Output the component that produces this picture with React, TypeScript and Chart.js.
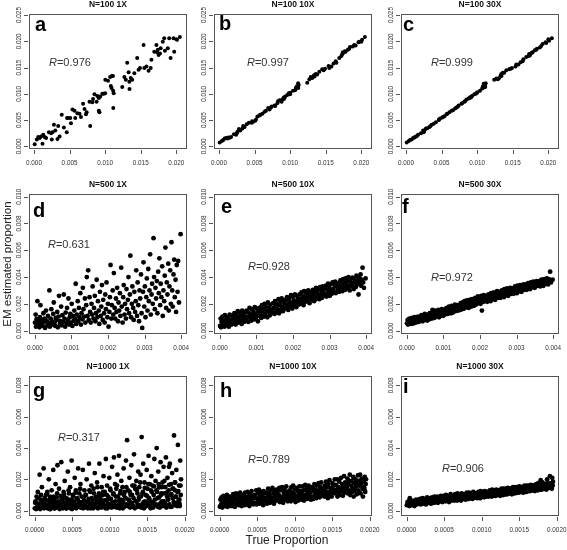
import React, { useEffect, useRef } from "react";
import { Chart, registerables } from "chart.js";

Chart.register(...registerables);

// ---------------- DATA ----------------
// Row 1 (N=100): values in units of 1e-5
const ROW1_TRUE = [
  10, 40, 60, 80, 100, 120, 130, 150, 170, 210,
  240, 260, 250, 280, 300, 340, 330, 360, 390, 420,
  460, 465, 480, 510, 520, 540, 570, 580, 610, 640,
  660, 690, 710, 730, 740, 780, 790, 820, 830, 850,
  880, 890, 910, 912, 920, 930, 960, 980, 1000, 1002,
  1040, 1070, 1080, 1090, 1092, 1110, 1112, 1114, 1120, 1240,
  1270, 1290, 1310, 1330, 1340, 1342, 1360, 1380, 1410, 1450,
  1470, 1490, 1540, 1550, 1580, 1610, 1640, 1650, 1690, 1720,
  1730, 1740, 1750, 1770, 1780, 1810, 1830, 1840, 1880, 1900,
  1920, 1960, 1970, 2000, 2010, 2050,
];
const A_EST = [
  40, 130, 180, 160, 190, 50, 220, 180, 160, 270,
  250, 270, 130, 410, 300, 390, 140, 190, 600, 360,
  270, 540, 540, 540, 440, 700, 680, 540, 630, 620,
  560, 810, 710, 610, 650, 850, 390, 840, 900, 990,
  850, 960, 920, 680, 650, 950, 1000, 1000, 1010, 1270,
  1250, 1320, 1150, 1110, 1340, 1340, 1060, 730, 1010, 1130,
  1320, 1270, 1590, 1410, 1230, 1090, 1300, 1270, 1390, 1680,
  1460, 1490, 1930, 1490, 1520, 1440, 1490, 1650, 1800, 1930,
  1790, 1840, 1740, 1770, 1870, 1990, 2060, 1820, 1870, 2060,
  1680, 2060, 1800, 2040, 2030, 2080,
];
const B_EST = [
  75, 100, 120, 150, 160, 150, 170, 165, 180, 230,
  220, 280, 250, 330, 300, 390, 340, 370, 420, 450,
  450, 480, 470, 490, 510, 570, 590, 600, 620, 660,
  680, 730, 700, 740, 760, 780, 770, 820, 860, 880,
  850, 890, 930, 900, 920, 950, 980, 1010, 990, 1020,
  1060, 1070, 1110, 1120, 1140, 1150, 1200, 1110, 1170, 1210,
  1280, 1320, 1300, 1340, 1360, 1330, 1380, 1370, 1420, 1470,
  1450, 1480, 1530, 1490, 1520, 1580, 1620, 1590, 1680, 1720,
  1750, 1790, 1780, 1810, 1800, 1840, 1860, 1890, 1900, 1930,
  1920, 1980, 1990, 1990, 2030, 2080,
];
const C_EST = [
  75, 100, 125, 130, 160, 170, 185, 195, 220, 250,
  300, 300, 270, 340, 345, 385, 370, 410, 430, 460,
  500, 510, 530, 550, 560, 575, 610, 620, 650, 680,
  690, 720, 740, 760, 780, 810, 820, 850, 860, 890,
  910, 920, 940, 930, 950, 960, 990, 1000, 1020, 1030,
  1060, 1100, 1140, 1120, 1190, 1180, 1150, 1130, 1200, 1270,
  1290, 1280, 1300, 1350, 1380, 1340, 1400, 1400, 1450, 1470,
  1480, 1490, 1520, 1560, 1560, 1600, 1620, 1660, 1700, 1720,
  1760, 1730, 1770, 1780, 1790, 1830, 1840, 1860, 1880, 1910,
  1950, 1980, 1970, 2040, 2010, 2060,
];

// Row 2 (N=500): values in units of 1e-6
const ROW2_TRUE = [
  5, 22, 31, 48, 70, 84, 101, 125, 139, 152, 178, 190, 214, 233, 247, 269, 280, 305, 321, 342,
  360, 377, 398, 410, 433, 450, 462, 489, 503, 517, 540, 558, 571, 596, 612, 628, 647, 660, 684, 701,
  719, 735, 752, 778, 790, 812, 829, 843, 866, 880, 903, 918, 937, 955, 971, 990, 1008, 1026, 1040, 1063,
  1080, 1094, 1117, 1131, 1150, 1172, 1186, 1205, 1220, 1243, 1260, 1275, 1298, 1312, 1330, 1351, 1369, 1382, 1404, 1420,
  1441, 1458, 1473, 1495, 1510, 1528, 1549, 1566, 1580, 1603, 1618, 1640, 1655, 1672, 1690, 1711, 1725, 1748, 1763, 1780,
  1802, 1817, 1835, 1856, 1870, 1891, 1908, 1925, 1944, 1960, 1982, 1997, 2015, 2038, 2052, 2070, 2091, 2105, 2128, 2143,
  2160, 2181, 2196, 2218, 2232, 2250, 2273, 2288, 2305, 2326, 2340, 2361, 2377, 2399, 2415, 2430, 2452, 2468, 2490, 2506,
  2521, 2543, 2560, 2577, 2598, 2612, 2630, 2651, 2666, 2688, 2703, 2720, 2741, 2758, 2772, 2795, 2810, 2828, 2849, 2863,
  2880, 2902, 2918, 2935, 2957, 2970, 2992, 3008, 3025, 3046, 3061, 3080, 3101, 3116, 3135, 3152, 3170, 3191, 3206, 3224,
  3245, 3260, 3281, 3297, 3315, 3336, 3350, 3372, 3389, 3405, 3426, 3441, 3460, 3482, 3497, 3515, 3536, 3551, 3570, 3590,
  3608, 3625, 3647, 3662, 3680, 3701, 3718, 3735, 3756, 3770, 3791, 3810, 3826, 3847, 3862, 3880, 3902, 3918, 3940, 3985,
];
const D_EST = [
  600, 1200, 300, 850, 2200, 450, 700, 250, 1000, 1900, 500, 800, 350, 1300, 650, 900, 200, 1500, 750, 400,
  1100, 550, 3000, 300, 900, 1600, 700, 450, 1250, 2100, 600, 350, 950, 800, 1400, 250, 1050, 2600, 500, 700,
  1800, 400, 1150, 650, 2700, 900, 300, 1350, 550, 1700, 800, 2400, 450, 1000, 1250, 600, 2000, 350, 1100, 750,
  1500, 900, 3500, 500, 1200, 2200, 700, 1700, 1000, 2800, 450, 1300, 850, 3200, 1600, 1050, 2400, 600, 1900, 4000,
  1100, 4500, 800, 2500, 1400, 600, 2000, 1200, 3300, 900, 1700, 2600, 700, 1300, 3800, 1000, 2200, 1500, 500, 2900,
  1100, 1800, 3400, 800, 2300, 1300, 600, 2700, 1600, 3600, 1000, 2000, 300, 1400, 2500, 4900, 900, 1900, 3000, 1200,
  4300, 1700, 900, 2400, 1400, 3200, 700, 2100, 1500, 2800, 1100, 4700, 1800, 600, 2500, 3400, 1200, 2000, 900, 3100,
  1600, 2300, 4000, 1300, 2700, 5600, 1000, 2000, 3300, 1700, 800, 2900, 1400, 2200, 4500, 1100, 3600, 1900, 700, 3000,
  2400, 4200, 1300, 200, 2900, 5100, 1800, 3300, 1000, 2500, 3900, 1500, 4600, 2200, 3000, 5700, 1200, 2700, 3500, 2000,
  6900, 4000, 1600, 3200, 2400, 3700, 1300, 4400, 2800, 5400, 1900, 3500, 2500, 4800, 1100, 3000, 2200, 4100, 6200, 1700,
  3600, 2700, 5000, 1500, 3300, 4500, 2000, 6600, 3000, 1800, 4200, 5300, 2500, 3800, 1400, 4900, 2900, 5200, 2100, 7200,
];
const E_EST = [
  350, 900, 250, 650, 1050, 450, 750, 300, 1150, 550, 850, 400, 1000, 650, 300, 1200, 500, 800, 450, 1100,
  950, 550, 1300, 750, 450, 1150, 850, 1450, 600, 1000, 1350, 700, 1100, 500, 1500, 900, 1250, 650, 1050, 1400,
  800, 1500, 1050, 650, 1350, 1700, 950, 1200, 750, 1600, 1100, 1400, 850, 1750, 1250, 1000, 1650, 1300, 700, 1500,
  1700, 1100, 1450, 950, 1900, 1300, 1600, 1050, 2000, 1250, 1800, 1500, 1000, 2100, 1400, 1700, 1150, 1950, 1550, 1350,
  1450, 2050, 1700, 1250, 2200, 1850, 1400, 2000, 1600, 2350, 1300, 1900, 2150, 1550, 2400, 1750, 1450, 2250, 2000, 1650,
  2250, 1700, 2500, 1950, 1550, 2400, 2100, 1800, 2650, 2000, 1650, 2550, 2250, 1900, 2700, 2150, 1750, 2600, 2350, 2050,
  1950, 2700, 2350, 2050, 2850, 2200, 2550, 1900, 2950, 2400, 2150, 2800, 2500, 2250, 3000, 2650, 2050, 2900, 2450, 2750,
  2300, 3050, 2650, 2200, 2950, 2500, 3200, 2400, 2800, 3100, 2550, 2350, 3250, 2700, 3000, 2450, 3300, 2850, 2600, 3150,
  2700, 3350, 2550, 3050, 3500, 2850, 3200, 2600, 3450, 3000, 2750, 3600, 3100, 2900, 3400, 3650, 2800, 3300, 3550, 3050,
  3550, 2900, 3300, 3750, 3100, 3450, 2950, 3850, 3250, 3600, 3050, 3900, 3400, 3150, 3700, 4000, 3350, 3000, 3800, 3500,
  3300, 3950, 3550, 3100, 3850, 3650, 3250, 4100, 3450, 3750, 2700, 3950, 3550, 4200, 3350, 3800, 4700, 3600, 3200, 3900,
];
const F_EST = [
  550, 800, 450, 700, 900, 600, 750, 500, 950, 650, 850, 550, 1000, 700, 600, 900, 750, 1050, 650, 850,
  1000, 750, 1150, 850, 700, 1100, 900, 1250, 800, 1050, 950, 750, 1200, 1000, 850, 1300, 950, 1150, 900, 1550,
  1100, 1400, 950, 1250, 1500, 1050, 1350, 1150, 1550, 1000, 1300, 1450, 1150, 1600, 1250, 1100, 1500, 1350, 1200, 1650,
  1350, 1700, 1250, 1550, 1800, 1400, 1650, 1300, 1850, 1500, 1350, 1750, 1600, 1950, 1450, 1700, 1550, 1900, 1500, 1800,
  1900, 1550, 2050, 1700, 1600, 2100, 1800, 1650, 2200, 1900, 1750, 2250, 1850, 2000, 1700, 2300, 1950, 2100, 1800, 2350,
  2000, 2350, 1850, 2200, 2450, 1950, 2300, 2100, 2550, 2050, 2400, 2250, 2000, 2600, 1500, 2350, 2150, 2650, 2300, 2500,
  2250, 2600, 2150, 2450, 2700, 2300, 2550, 2200, 2800, 2400, 2650, 2350, 2850, 2500, 2300, 2750, 2600, 2950, 2450, 2700,
  2550, 2900, 2450, 2750, 3000, 2600, 2850, 2500, 3100, 2700, 2950, 2650, 3150, 2800, 2600, 3050, 2900, 3200, 2750, 3000,
  2850, 3150, 2750, 3050, 3300, 2900, 3150, 2800, 3350, 3000, 3250, 2950, 3400, 3100, 2900, 3350, 3200, 3450, 3050, 3300,
  3150, 3450, 3050, 3350, 3550, 3200, 3450, 3100, 3600, 3300, 3500, 3250, 3650, 3400, 3200, 3600, 3450, 3700, 3350, 3550,
  3400, 3700, 3300, 3600, 3800, 3450, 3700, 3350, 3850, 3550, 3750, 3500, 3900, 3650, 3450, 3850, 3700, 4400, 3600, 3800,
];

// Row 3 (N=1000): values in units of 1e-6
const ROW3_TRUE = [
  3, 11, 19, 26, 36, 42, 51, 57, 67, 74, 81, 88, 97, 103, 112, 120, 126, 135, 141, 150,
  158, 164, 173, 180, 189, 195, 204, 212, 218, 227, 233, 243, 248, 258, 264, 273, 279, 288, 294, 304,
  310, 319, 325, 334, 340, 350, 355, 365, 371, 380, 386, 396, 401, 411, 417, 426, 432, 442, 447, 457,
  463, 472, 478, 488, 493, 503, 509, 518, 524, 534, 540, 549, 555, 565, 570, 580, 586, 595, 601, 611,
  617, 626, 632, 642, 647, 657, 663, 672, 678, 688, 693, 703, 709, 718, 724, 734, 740, 749, 755, 765,
  770, 780, 786, 795, 801, 811, 817, 826, 832, 842, 847, 857, 863, 872, 878, 888, 893, 903, 909, 918,
  924, 934, 940, 949, 955, 965, 970, 980, 986, 995, 1001, 1011, 1017, 1026, 1032, 1042, 1047, 1057, 1063, 1072,
  1078, 1088, 1093, 1103, 1109, 1118, 1124, 1134, 1140, 1149, 1155, 1165, 1170, 1180, 1186, 1195, 1201, 1211, 1217, 1226,
  1232, 1242, 1247, 1257, 1263, 1272, 1278, 1288, 1293, 1303, 1309, 1318, 1324, 1334, 1340, 1349, 1355, 1365, 1370, 1380,
  1386, 1395, 1401, 1411, 1417, 1426, 1432, 1442, 1447, 1457, 1463, 1472, 1478, 1488, 1493, 1503, 1509, 1518, 1524, 1534,
  1540, 1549, 1555, 1565, 1570, 1580, 1586, 1595, 1601, 1611, 1617, 1626, 1632, 1642, 1647, 1657, 1663, 1672, 1678, 1688,
  1693, 1703, 1709, 1718, 1724, 1734, 1740, 1749, 1755, 1765, 1770, 1780, 1786, 1795, 1801, 1811, 1817, 1826, 1832, 1842,
  1848, 1857, 1863, 1872, 1878, 1888, 1893, 1903, 1909, 1918, 1924, 1934, 1940, 1946, 1950, 1930, 1870, 1790, 1720, 1660,
];
const G_EST = [
  150, 600, 100, 900, 300, 1200, 200, 450, 2300, 100, 700, 350, 1500, 250, 550, 2700, 150, 800, 400, 1000,
  250, 1100, 150, 650, 2000, 400, 900, 100, 300, 1300, 550, 200, 2600, 750, 150, 450, 1700, 300, 850, 2900,
  200, 600, 1400, 100, 350, 950, 3100, 250, 700, 150, 1200, 500, 1900, 300, 800, 150, 400, 2500, 650, 1100,
  300, 1500, 150, 700, 3200, 450, 1000, 200, 600, 2100, 350, 1300, 150, 800, 400, 2700, 250, 1100, 550, 1700,
  200, 900, 450, 2600, 150, 650, 1300, 350, 1000, 200, 2000, 550, 150, 750, 3000, 300, 1200, 450, 1600, 250,
  700, 150, 1400, 400, 2400, 250, 900, 600, 1800, 150, 500, 1100, 3000, 300, 750, 200, 1500, 450, 1000, 2200,
  350, 1200, 200, 3300, 650, 1600, 150, 900, 450, 2100, 300, 1300, 750, 200, 2800, 500, 1050, 3400, 250, 1700,
  600, 1400, 200, 2300, 900, 400, 3500, 150, 1100, 700, 1900, 300, 1500, 550, 2700, 250, 1200, 800, 3200, 400,
  4500, 350, 1300, 650, 2100, 200, 1000, 2900, 500, 1600, 300, 800, 3600, 150, 1400, 600, 1900, 250, 1100, 2500,
  700, 1500, 250, 2300, 900, 4700, 400, 1200, 3000, 150, 1800, 600, 1000, 300, 2600, 1400, 500, 3500, 800, 1700,
  300, 1300, 2200, 550, 1600, 200, 1000, 3300, 700, 1900, 400, 4000, 1200, 250, 2500, 850, 1500, 450, 3100, 1100,
  600, 1800, 300, 2800, 1100, 500, 1500, 3400, 200, 900, 2100, 700, 1300, 400, 3000, 1000, 1700, 250, 2400, 800,
  1400, 4800, 350, 1800, 900, 2600, 500, 1200, 4200, 700, 1600, 300, 3200, 1000, 2000, 450, 1300, 2800, 600, 1500,
];
// additional points of the dense low band in panel g (true, estimated), units 1e-6
const G_EXTRA_TRUE = [
  7, 30, 46, 62, 85, 108, 131, 146, 169, 185, 200, 222, 238, 253, 269, 284, 300, 315, 345, 361,
  376, 392, 407, 422, 437, 452, 468, 484, 498, 514, 529, 545, 560, 575, 590, 606, 622, 637, 652, 668,
  683, 698, 714, 729, 745, 760, 776, 791, 806, 822, 837, 852, 868, 883, 898, 914, 929, 945, 960, 975,
  991, 1006, 1022, 1037, 1052, 1068, 1083, 1098, 1114, 1129, 1145, 1160, 1175, 1191, 1206, 1222, 1237, 1252, 1268, 1283,
  1298, 1314, 1329, 1345, 1360, 1375, 1391, 1406, 1422, 1437, 1452, 1468, 1483, 1498, 1514, 1529, 1545, 1560, 1575, 1591,
  1606, 1622, 1637, 1652, 1668, 1683, 1698, 1714, 1729, 1745, 1760, 1775, 1791, 1806, 1822, 1837, 1852, 1868, 1883, 1898,
  1914, 1929, 1944,
];
const G_EXTRA_EST = [
  500, 150, 800, 300, 1000, 200, 650, 400, 1200, 250, 100, 700, 350, 900, 150, 550, 1100, 300, 450, 800,
  200, 1000, 500, 150, 750, 1300, 350, 600, 100, 900, 450, 1150, 250, 700, 400, 1400, 200, 550, 850, 300,
  1000, 250, 600, 1300, 150, 800, 450, 1100, 300, 700, 1500, 200, 900, 550, 350, 1200, 650, 150, 1000, 400,
  750, 1400, 250, 550, 1100, 350, 900, 1600, 200, 650, 1250, 450, 150, 1000, 800, 1500, 300, 700, 1200, 500,
  1000, 250, 1600, 600, 1300, 400, 850, 1800, 200, 1100, 550, 1450, 300, 950, 1700, 700, 150, 1200, 500, 1550,
  350, 1300, 800, 1700, 200, 1000, 1500, 600, 1900, 400, 1150, 750, 1650, 250, 1050, 1400, 550, 1800, 900, 300,
  1250, 700, 1600,
];
const H_EST = [
  250, 700, 400, 850, 200, 550, 950, 350, 650, 300, 800, 450, 1000, 250, 600, 750, 300, 900, 500, 650,
  800, 300, 650, 1050, 450, 900, 250, 700, 1100, 400, 750, 550, 1000, 350, 850, 1150, 500, 700, 300, 950,
  450, 1000, 700, 350, 1150, 550, 850, 400, 1200, 650, 900, 300, 1050, 750, 500, 1250, 600, 950, 400, 800,
  1000, 500, 850, 1300, 400, 750, 1100, 600, 1350, 450, 900, 700, 1200, 550, 1000, 350, 1250, 800, 650, 1100,
  600, 1150, 450, 900, 1400, 700, 1050, 500, 1300, 850, 600, 1450, 750, 1100, 450, 1250, 950, 650, 1350, 800,
  1200, 650, 1000, 1450, 550, 900, 1300, 750, 1500, 850, 500, 1100, 1350, 700, 1050, 1550, 800, 1200, 600, 1000,
  750, 1300, 1000, 600, 1500, 850, 1150, 1600, 700, 1050, 1350, 550, 900, 1450, 800, 1250, 650, 1100, 1550, 950,
  1250, 700, 1100, 1550, 850, 1300, 650, 1000, 1650, 900, 1400, 750, 1200, 1050, 1600, 800, 1350, 1150, 700, 1500,
  900, 1450, 750, 1250, 1700, 1000, 1350, 800, 1600, 1150, 950, 1750, 1300, 850, 1500, 1100, 1800, 1000, 1400, 1200,
  1400, 900, 1600, 1250, 1850, 1050, 1500, 800, 1700, 1200, 1950, 1000, 1450, 1300, 900, 1750, 1150, 1600, 1350, 2000,
  1100, 1650, 1300, 2000, 900, 1500, 1200, 1850, 1000, 1400, 2100, 1250, 1700, 950, 1550, 2200, 1150, 1800, 1350, 1600,
  1500, 2050, 1100, 1700, 1300, 2300, 1000, 1600, 1900, 1200, 1450, 2150, 900, 1750, 1350, 2000, 1550, 1050, 1800, 2250,
  1300, 1900, 1600, 2300, 1100, 1750, 2050, 1400, 900, 1850, 1500, 2150, 1200, 1700, 2000, 1350, 1600, 1250, 1900, 1450,
];
const I_EST = [
  350, 550, 400, 600, 300, 800, 450, 650, 350, 500, 600, 400, 550, 300, 650, 450, 700, 400, 550, 600,
  450, 700, 500, 750, 400, 650, 550, 800, 450, 600, 750, 500, 700, 400, 650, 850, 550, 700, 500, 750,
  550, 800, 450, 700, 850, 600, 750, 500, 900, 650, 550, 800, 700, 900, 500, 750, 650, 850, 600, 950,
  650, 900, 550, 800, 950, 700, 850, 600, 1000, 750, 650, 900, 800, 550, 950, 700, 1050, 650, 850, 750,
  700, 950, 650, 850, 1050, 750, 900, 650, 1100, 800, 950, 700, 1000, 850, 650, 1100, 800, 950, 750, 1000,
  800, 1050, 700, 950, 1150, 850, 1000, 750, 1150, 900, 1050, 800, 1100, 950, 750, 1200, 900, 1050, 850, 1100,
  850, 1100, 800, 1000, 1200, 900, 1050, 800, 1250, 950, 1150, 900, 1200, 1050, 850, 1250, 1000, 1150, 900, 1200,
  950, 1200, 900, 1100, 1300, 1000, 1150, 900, 1350, 1050, 1250, 950, 1300, 1150, 950, 1350, 1100, 1250, 1000, 1300,
  1050, 1300, 950, 1200, 1400, 1100, 1250, 1000, 1400, 1150, 1350, 1050, 1400, 1250, 1050, 1450, 1200, 1350, 1100, 1400,
  1150, 1400, 1050, 1300, 1500, 1200, 1350, 1100, 1500, 1250, 1450, 1150, 1500, 1350, 1150, 1550, 1300, 1450, 1200, 1500,
  1200, 1500, 1150, 1400, 1600, 1300, 1450, 1200, 1600, 1350, 1550, 1250, 1600, 1450, 1250, 1650, 1400, 1550, 1300, 1600,
  1300, 1600, 1250, 1500, 1700, 1400, 1550, 1300, 1750, 1450, 1650, 1350, 1950, 1550, 1350, 1800, 1500, 1650, 1400, 1700,
  1400, 1700, 1350, 2000, 1800, 1450, 1650, 1550, 2200, 1500, 1750, 1400, 2100, 1600, 1850, 1450, 1650, 1350, 1550, 1450,
];

const ROW_UNITS = [1e-5, 1e-6, 1e-6];

const TITLES = ["N=100 1X", "N=100 10X", "N=100 30X", "N=500 1X", "N=500 10X", "N=500 30X", "N=1000 1X", "N=1000 10X", "N=1000 30X"];
const LETTERS = ["a", "b", "c", "d", "e", "f", "g", "h", "i"];
const R_VALUES = ["0.976", "0.997", "0.999", "0.631", "0.928", "0.972", "0.317", "0.789", "0.906"];

const X_TICKS = [
  [0, 0.005, 0.01, 0.015, 0.02],
  [0, 0.001, 0.002, 0.003, 0.004],
  [0, 0.0005, 0.001, 0.0015, 0.002],
];
const X_TICK_LABELS = [
  ["0.000", "0.005", "0.010", "0.015", "0.020"],
  ["0.000", "0.001", "0.002", "0.003", "0.004"],
  ["0.0000", "0.0005", "0.0010", "0.0015", "0.0020"],
];
const Y_TICKS = [
  [0, 0.005, 0.01, 0.015, 0.02, 0.025],
  [0, 0.002, 0.004, 0.006, 0.008, 0.01],
  [0, 0.002, 0.004, 0.006, 0.008],
];
const Y_TICK_LABELS = [
  ["0.000", "0.005", "0.010", "0.015", "0.020", "0.025"],
  ["0.000", "0.002", "0.004", "0.006", "0.008", "0.010"],
  ["0.000", "0.002", "0.004", "0.006", "0.008"],
];
const X_LABEL = "True Proportion";
const Y_LABEL = "EM estimated proportion";

// ---------------- LAYOUT / STYLE ----------------
const W = 567;
const H = 550;
const COL_LEFT = [29, 214, 401];
const BOX_W = 158;
const ROW_TOP = [14, 194, 376];
const ROW_BOTTOM = [149, 334, 516];
const X_RANGE = [[-0.0007, 0.0215], [-0.00016, 0.00416], [-0.000075, 0.00203]];
const Y_RANGE = [[-0.0005, 0.0252], [-0.00025, 0.0102], [-0.00034, 0.0086]];
const R_POS = [[49, 63], [247, 63], [431, 63], [48, 245], [248, 267], [431, 278], [58, 438], [248, 460], [442, 469]];
const LETTER_POS = [[35, 31], [219, 30], [403, 31], [33, 217], [221, 213], [402, 213], [33, 397], [220, 397], [403, 393]];
const POINT_R = [2, 2.4, 2.4];
const FONT = '"Liberation Sans", Arial, sans-serif';

const ROW_TRUE = [ROW1_TRUE, ROW2_TRUE, ROW3_TRUE];
const PANEL_EST = [A_EST, B_EST, C_EST, D_EST, E_EST, F_EST, G_EST, H_EST, I_EST];
const PANEL_EXTRA: Record<number, [number[], number[]]> = { 6: [G_EXTRA_TRUE, G_EXTRA_EST] };

function drawDecor(chart: any, idx: number) {
  const row = Math.floor(idx / 3);
  const ctx: CanvasRenderingContext2D = chart.ctx;
  const { left, right, top, bottom } = chart.chartArea;
  const xs = chart.scales.x;
  const ys = chart.scales.y;
  ctx.save();
  // box
  ctx.strokeStyle = "#555";
  ctx.lineWidth = 1;
  ctx.strokeRect(Math.round(left) + 0.5, Math.round(top) + 0.5, Math.round(right - left) - 1, Math.round(bottom - top) - 1);
  // ticks
  ctx.beginPath();
  X_TICKS[row].forEach((v) => {
    const px = Math.round(xs.getPixelForValue(v)) + 0.5;
    ctx.moveTo(px, bottom + 1);
    ctx.lineTo(px, bottom + 5);
  });
  Y_TICKS[row].forEach((v) => {
    const py = Math.round(ys.getPixelForValue(v)) + 0.5;
    ctx.moveTo(left - 1, py);
    ctx.lineTo(left - 5, py);
  });
  ctx.stroke();
  // tick labels
  ctx.fillStyle = "#333";
  ctx.font = `7.5px ${FONT}`;
  ctx.textAlign = "center";
  ctx.textBaseline = "middle";
  X_TICKS[row].forEach((v, i) => {
    const px = xs.getPixelForValue(v);
    ctx.save();
    ctx.translate(px, bottom + 14);
    ctx.scale(0.85, 1);
    ctx.fillText(X_TICK_LABELS[row][i], 0, 0);
    ctx.restore();
  });
  Y_TICKS[row].forEach((v, i) => {
    const py = ys.getPixelForValue(v);
    ctx.save();
    ctx.translate(left - 10, py);
    ctx.rotate(-Math.PI / 2);
    ctx.scale(0.85, 1);
    ctx.fillText(Y_TICK_LABELS[row][i], 0, 0);
    ctx.restore();
  });
  // title
  ctx.fillStyle = "#111";
  ctx.font = `bold 8.5px ${FONT}`;
  ctx.fillText(TITLES[idx], (left + right) / 2, top - 9);
  // letter
  ctx.fillStyle = "#000";
  ctx.font = `bold 20px ${FONT}`;
  ctx.textAlign = "left";
  ctx.textBaseline = "alphabetic";
  ctx.fillText(LETTERS[idx], LETTER_POS[idx][0], LETTER_POS[idx][1]);
  // R value
  ctx.fillStyle = "#333";
  ctx.textBaseline = "middle";
  ctx.font = `italic 11px ${FONT}`;
  const [rx, ry] = R_POS[idx];
  ctx.fillText("R", rx, ry);
  const w = ctx.measureText("R").width;
  ctx.font = `11px ${FONT}`;
  ctx.fillText("=" + R_VALUES[idx], rx + w, ry);
  // shared axis titles
  if (idx === 3) {
    ctx.save();
    ctx.fillStyle = "#222";
    ctx.font = `11.5px ${FONT}`;
    ctx.textAlign = "center";
    ctx.translate(8, 264);
    ctx.rotate(-Math.PI / 2);
    ctx.fillText(Y_LABEL, 0, 0);
    ctx.restore();
  }
  if (idx === 7) {
    ctx.fillStyle = "#222";
    ctx.font = `12px ${FONT}`;
    ctx.textAlign = "center";
    ctx.fillText(X_LABEL, 287, 541);
  }
  ctx.restore();
}

function Panel({ idx }: { idx: number }) {
  const ref = useRef<HTMLCanvasElement>(null);
  useEffect(() => {
    const row = Math.floor(idx / 3);
    const col = idx % 3;
    const unit = ROW_UNITS[row];
    const data: { x: number; y: number }[] = [];
    const addPoints = (tv: number[], ev: number[]) => {
      const n = Math.min(tv.length, ev.length);
      for (let i = 0; i < n; i++) data.push({ x: tv[i] * unit, y: ev[i] * unit });
    };
    addPoints(ROW_TRUE[row], PANEL_EST[idx]);
    if (PANEL_EXTRA[idx]) addPoints(PANEL_EXTRA[idx][0], PANEL_EXTRA[idx][1]);
    const boxLeft = COL_LEFT[col];
    const chart = new Chart(ref.current as HTMLCanvasElement, {
      type: "scatter",
      data: {
        datasets: [
          {
            data,
            pointRadius: POINT_R[row],
            pointHoverRadius: POINT_R[row],
            pointBackgroundColor: "#000",
            pointBorderWidth: 0,
            borderWidth: 0,
          } as any,
        ],
      },
      options: {
        animation: false,
        responsive: false,
        devicePixelRatio: 1,
        events: [],
        layout: {
          autoPadding: false,
          padding: {
            left: boxLeft,
            top: ROW_TOP[row],
            right: W - (boxLeft + BOX_W),
            bottom: H - ROW_BOTTOM[row],
          },
        },
        scales: {
          x: { type: "linear", min: X_RANGE[row][0], max: X_RANGE[row][1], display: false },
          y: { type: "linear", min: Y_RANGE[row][0], max: Y_RANGE[row][1], display: false },
        },
        plugins: { legend: { display: false }, tooltip: { enabled: false }, title: { display: false } },
      } as any,
      plugins: [{ id: "decor" + idx, afterDraw: (c: any) => drawDecor(c, idx) }],
    });
    return () => chart.destroy();
  }, [idx]);
  return (
    <canvas
      ref={ref}
      width={W}
      height={H}
      style={{ position: "absolute", left: 0, top: 0, width: W, height: H }}
    />
  );
}

export default function App() {
  return (
    <div style={{ position: "absolute", left: 0, top: 0, width: W, height: H, background: "#fff", overflow: "hidden" }}>
      {[0, 1, 2, 3, 4, 5, 6, 7, 8].map((i) => (
        <Panel key={i} idx={i} />
      ))}
    </div>
  );
}
